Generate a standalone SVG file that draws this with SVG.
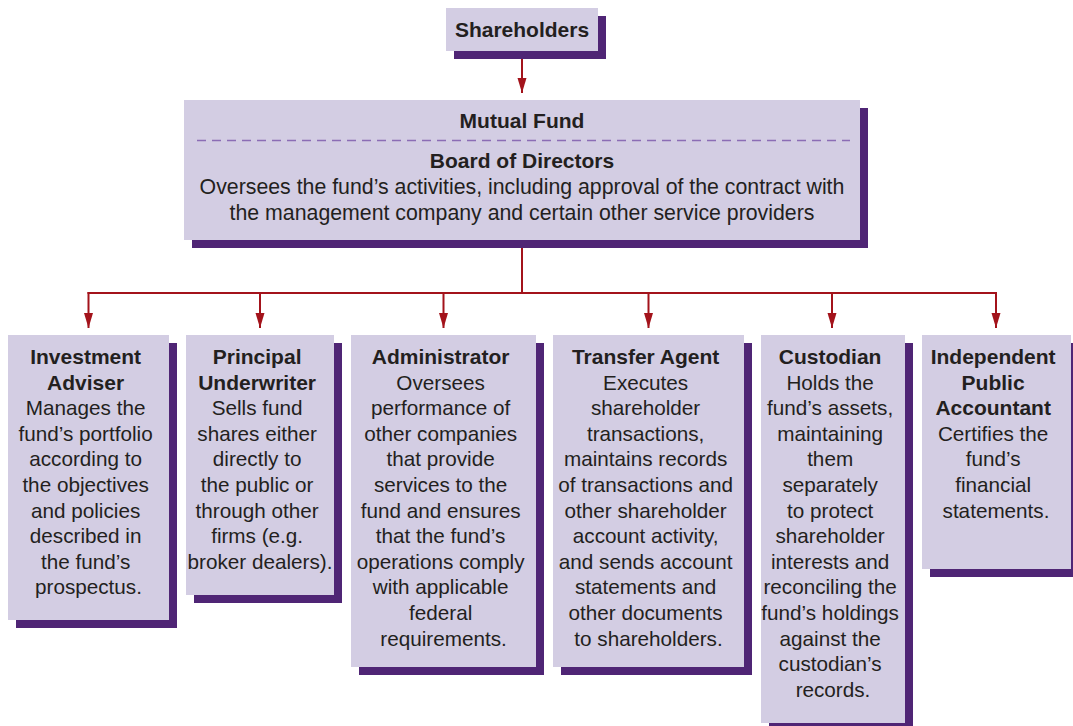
<svg xmlns="http://www.w3.org/2000/svg" width="1073" height="726" viewBox="0 0 1073 726">
<defs>
<style>
.box{fill:#d3cde3}
.sh{fill:#4f2575}
.t{font-family:"Liberation Sans",Arial,Helvetica,sans-serif;font-size:20.7px;fill:#231f20;text-anchor:middle}
.b{font-weight:bold;font-size:21px}
.m{font-size:21.3px}
.c{stroke:#a3131b;stroke-width:2;fill:none}
</style>
<marker id="ah" markerUnits="userSpaceOnUse" markerWidth="15" markerHeight="10" refX="15" refY="4.5" orient="auto">
<path d="M0,0 L15,4.5 L0,9 z" fill="#a3131b"/>
</marker>
</defs>
<rect width="1073" height="726" fill="#ffffff"/>

<g id="connectors">
<line class="c" x1="522" y1="58" x2="522" y2="93" marker-end="url(#ah)"/>
<line class="c" x1="522" y1="248" x2="522" y2="293"/>
<line class="c" x1="87.5" y1="293" x2="997" y2="293"/>
<line class="c" x1="88.5" y1="292" x2="88.5" y2="328" marker-end="url(#ah)"/>
<line class="c" x1="260" y1="293" x2="260" y2="328" marker-end="url(#ah)"/>
<line class="c" x1="443.5" y1="293" x2="443.5" y2="328" marker-end="url(#ah)"/>
<line class="c" x1="648.5" y1="293" x2="648.5" y2="328" marker-end="url(#ah)"/>
<line class="c" x1="832" y1="293" x2="832" y2="328" marker-end="url(#ah)"/>
<line class="c" x1="996" y1="292" x2="996" y2="328" marker-end="url(#ah)"/>
</g>

<g id="shareholders">
<rect class="sh" x="454" y="16" width="152" height="43"/>
<rect class="box" x="446" y="8" width="152" height="43"/>
<text class="t b" x="522" y="37">Shareholders</text>
</g>

<g id="mutual-fund">
<rect class="sh" x="192" y="108" width="676" height="140"/>
<rect class="box" x="184" y="100" width="676" height="140"/>
<text class="t b" x="522" y="128">Mutual Fund</text>
<line x1="197" y1="140.5" x2="850" y2="140.5" stroke="#8b6db5" stroke-width="1.5" stroke-dasharray="9 6"/>
<text class="t b" x="522" y="168">Board of Directors</text>
<text class="t m" x="522" y="194">Oversees the fund’s activities, including approval of the contract with</text>
<text class="t m" x="522" y="220">the management company and certain other service providers</text>
</g>

<g id="investment-adviser">
<rect class="sh" x="16" y="343" width="161" height="285"/>
<rect class="box" x="8" y="335" width="161" height="285"/>
<text class="t" x="88.5">
<tspan class="b" x="88.5" y="364">Investment</tspan>
<tspan class="b" x="88.5" y="389.6">Adviser</tspan>
<tspan x="88.5" y="415.2">Manages the</tspan>
<tspan x="88.5" y="440.8">fund’s portfolio</tspan>
<tspan x="88.5" y="466.4">according to</tspan>
<tspan x="88.5" y="492">the objectives</tspan>
<tspan x="88.5" y="517.6">and policies</tspan>
<tspan x="88.5" y="543.2">described in</tspan>
<tspan x="88.5" y="568.8">the fund’s</tspan>
<tspan x="88.5" y="594.4">prospectus.</tspan>
</text>
</g>

<g id="principal-underwriter">
<rect class="sh" x="194" y="343" width="148" height="260"/>
<rect class="box" x="186" y="335" width="148" height="260"/>
<text class="t" x="260">
<tspan class="b" x="260" y="364">Principal</tspan>
<tspan class="b" x="260" y="389.6">Underwriter</tspan>
<tspan x="260" y="415.2">Sells fund</tspan>
<tspan x="260" y="440.8">shares either</tspan>
<tspan x="260" y="466.4">directly to</tspan>
<tspan x="260" y="492">the public or</tspan>
<tspan x="260" y="517.6">through other</tspan>
<tspan x="260" y="543.2">firms (e.g.</tspan>
<tspan x="260" y="568.8">broker dealers).</tspan>
</text>
</g>

<g id="administrator">
<rect class="sh" x="359" y="343" width="185" height="332"/>
<rect class="box" x="351" y="335" width="185" height="332"/>
<text class="t" x="443.5">
<tspan class="b" x="443.5" y="364">Administrator</tspan>
<tspan x="443.5" y="389.6">Oversees</tspan>
<tspan x="443.5" y="415.2">performance of</tspan>
<tspan x="443.5" y="440.8">other companies</tspan>
<tspan x="443.5" y="466.4">that provide</tspan>
<tspan x="443.5" y="492">services to the</tspan>
<tspan x="443.5" y="517.6">fund and ensures</tspan>
<tspan x="443.5" y="543.2">that the fund’s</tspan>
<tspan x="443.5" y="568.8">operations comply</tspan>
<tspan x="443.5" y="594.4">with applicable</tspan>
<tspan x="443.5" y="620">federal</tspan>
<tspan x="443.5" y="645.6">requirements.</tspan>
</text>
</g>

<g id="transfer-agent">
<rect class="sh" x="561" y="343" width="191" height="332"/>
<rect class="box" x="553" y="335" width="191" height="332"/>
<text class="t" x="648.5">
<tspan class="b" x="648.5" y="364">Transfer Agent</tspan>
<tspan x="648.5" y="389.6">Executes</tspan>
<tspan x="648.5" y="415.2">shareholder</tspan>
<tspan x="648.5" y="440.8">transactions,</tspan>
<tspan x="648.5" y="466.4">maintains records</tspan>
<tspan x="648.5" y="492">of transactions and</tspan>
<tspan x="648.5" y="517.6">other shareholder</tspan>
<tspan x="648.5" y="543.2">account activity,</tspan>
<tspan x="648.5" y="568.8">and sends account</tspan>
<tspan x="648.5" y="594.4">statements and</tspan>
<tspan x="648.5" y="620">other documents</tspan>
<tspan x="648.5" y="645.6">to shareholders.</tspan>
</text>
</g>

<g id="custodian">
<rect class="sh" x="769" y="343" width="144" height="390"/>
<rect class="box" x="761" y="335" width="144" height="388"/>
<text class="t" x="833">
<tspan class="b" x="833" y="364">Custodian</tspan>
<tspan x="833" y="389.6">Holds the</tspan>
<tspan x="833" y="415.2">fund’s assets,</tspan>
<tspan x="833" y="440.8">maintaining</tspan>
<tspan x="833" y="466.4">them</tspan>
<tspan x="833" y="492">separately</tspan>
<tspan x="833" y="517.6">to protect</tspan>
<tspan x="833" y="543.2">shareholder</tspan>
<tspan x="833" y="568.8">interests and</tspan>
<tspan x="833" y="594.4">reconciling the</tspan>
<tspan x="833" y="620">fund’s holdings</tspan>
<tspan x="833" y="645.6">against the</tspan>
<tspan x="833" y="671.2">custodian’s</tspan>
<tspan x="833" y="696.8">records.</tspan>
</text>
</g>

<g id="independent-public-accountant">
<rect class="sh" x="930" y="343" width="149" height="234"/>
<rect class="box" x="922" y="335" width="149" height="234"/>
<text class="t" x="996">
<tspan class="b" x="996" y="364">Independent</tspan>
<tspan class="b" x="996" y="389.6">Public</tspan>
<tspan class="b" x="996" y="415.2">Accountant</tspan>
<tspan x="996" y="440.8">Certifies the</tspan>
<tspan x="996" y="466.4">fund’s</tspan>
<tspan x="996" y="492">financial</tspan>
<tspan x="996" y="517.6">statements.</tspan>
</text>
</g>
</svg>
